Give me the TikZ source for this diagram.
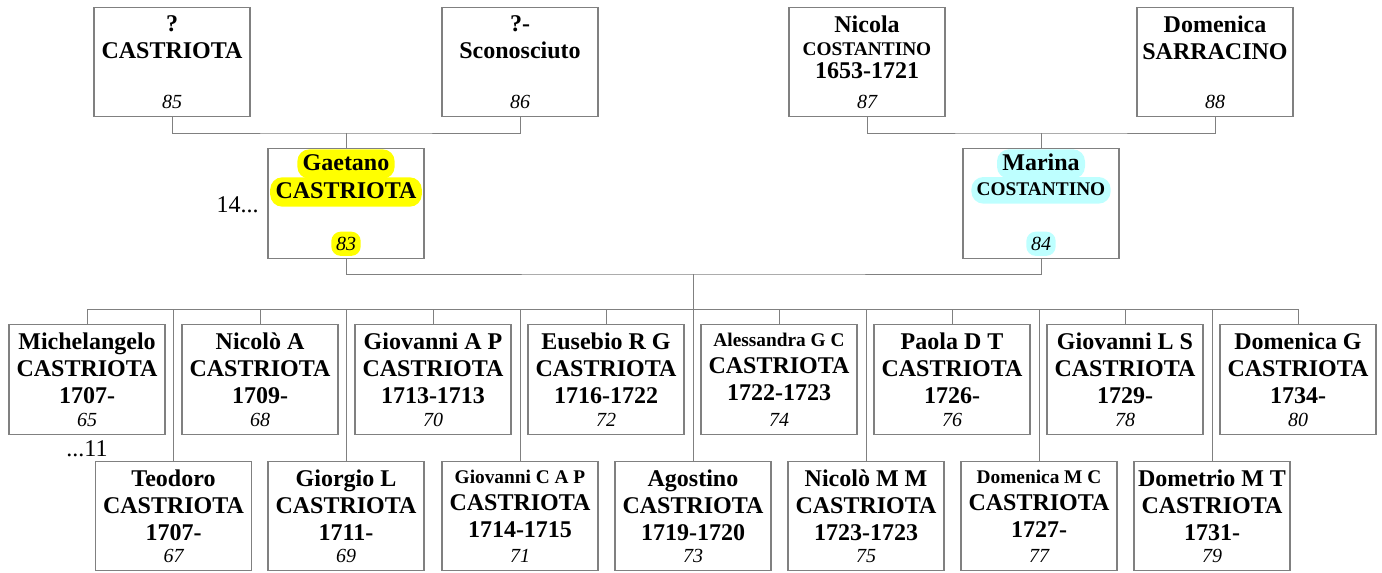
\documentclass[tikz,border=0pt]{standalone}
\usepackage{fontspec}
\setmainfont{Liberation Serif}
\usetikzlibrary{positioning}

\definecolor{markyellow}{RGB}{255,255,0}
\definecolor{markcyan}{RGB}{190,255,255}

\newcommand{\sm}[1]{{\fontsize{14.5}{16}\selectfont #1}}
% one box of the tree: id, centre, name lines, number
\newcommand{\famcard}[4]{%
  \node[card] (#1) at (#2) {};
  \node[cardname] (#1-n) at ([yshift=-6.5pt]#1.north) {#3};
  \node[cardnum] (#1-k) at ([yshift=11.25pt]#1.south) {#4};
}

\tikzset{
  card/.style={draw=black!50, line width=0.9pt, minimum width=117pt, minimum height=82pt, inner sep=0pt},
  cardname/.style={anchor=north, align=center, inner sep=0pt, font=\fontsize{18}{20.25}\selectfont\bfseries},
  cardnum/.style={inner sep=0pt, font=\fontsize{15}{16}\selectfont\itshape},
  link/.style={draw=black!50, line width=0.75pt},
  hlmark/.style={rounded corners=9pt, inner xsep=4pt, inner ysep=3pt, text height=12.5pt, text depth=3.5pt},
  nummark/.style={cardnum, rounded corners=7pt, inner xsep=3.5pt, inner ysep=4pt},
  sidenote/.style={inner sep=0pt, font=\fontsize{18}{20}\selectfont}
}

\begin{document}
\begin{tikzpicture}[x=0.75pt,y=-0.75pt]
  \useasboundingbox (0,0) rectangle (1382,572);

  % grandparents
  \famcard{p85}{172,62}{?\\CASTRIOTA}{85}
  \famcard{p86}{520,62}{?-\\Sconosciuto}{86}
  \famcard{p87}{867,62}{Nicola\\[-3pt]\sm{COSTANTINO}\\[-3pt]1653-1721}{87}
  \famcard{p88}{1215,62}{Domenica\\SARRACINO}{88}

  % parents
  \node[hlmark, fill=markyellow, anchor=base, font=\fontsize{18}{20}\selectfont\bfseries] (p83-a) at (346,170) {Gaetano};
  \node[hlmark, fill=markyellow, anchor=base, font=\fontsize{18}{20}\selectfont\bfseries] (p83-b) at (346,198) {CASTRIOTA};
  \node[card] (p83) at (346,203.5) {};
  \node[nummark, fill=markyellow] (p83-k) at ([yshift=11.25pt]p83.south) {83};

  \node[hlmark, fill=markcyan, anchor=base, font=\fontsize{18}{20}\selectfont\bfseries] (p84-a) at (1041,170) {Marina};
  \node[hlmark, fill=markcyan, anchor=base, font=\fontsize{14.5}{16}\selectfont\bfseries, text height=10.5pt] (p84-b) at (1041,195) {COSTANTINO};
  \node[card] (p84) at (1041,203.5) {};
  \node[nummark, fill=markcyan] (p84-k) at ([yshift=11.25pt]p84.south) {84};

  \node[sidenote, anchor=east] (gen14) at (259,205) {14...};

  % children, first row
  \famcard{p65}{87,379.5}{Michelangelo\\CASTRIOTA\\1707-}{65}
  \famcard{p68}{260,379.5}{Nicolò A\\CASTRIOTA\\1709-}{68}
  \famcard{p70}{433,379.5}{Giovanni A P\\CASTRIOTA\\1713-1713}{70}
  \famcard{p72}{606,379.5}{Eusebio R G\\CASTRIOTA\\1716-1722}{72}
  \famcard{p74}{779,379.5}{\sm{Alessandra G C}\\CASTRIOTA\\1722-1723}{74}
  \famcard{p76}{952,379.5}{Paola D T\\CASTRIOTA\\1726-}{76}
  \famcard{p78}{1125,379.5}{Giovanni L S\\CASTRIOTA\\1729-}{78}
  \famcard{p80}{1298,379.5}{Domenica G\\CASTRIOTA\\1734-}{80}

  % children, second row
  \famcard{p67}{173.5,516}{Teodoro\\CASTRIOTA\\1707-}{67}
  \famcard{p69}{346,516}{Giorgio L\\CASTRIOTA\\1711-}{69}
  \famcard{p71}{520,516}{\sm{Giovanni C A P}\\CASTRIOTA\\1714-1715}{71}
  \famcard{p73}{693,516}{Agostino\\CASTRIOTA\\1719-1720}{73}
  \famcard{p75}{866,516}{Nicolò M M\\CASTRIOTA\\1723-1723}{75}
  \famcard{p77}{1039,516}{\sm{Domenica M C}\\CASTRIOTA\\1727-}{77}
  \famcard{p79}{1212,516}{Dometrio M T\\CASTRIOTA\\1731-}{79}

  \node[sidenote] (gen11) at (87,449) {...11};

  % connectors
  \coordinate (j1) at (346,133);
  \coordinate (j2) at (1041,133);
  \draw[link] (p85.south) |- (j1) -| (p86.south);
  \draw[link] (j1) -- (p83.north);
  \draw[link] (p87.south) |- (j2) -| (p88.south);
  \draw[link] (j2) -- (p84.north);
  \coordinate (wed) at (693,274);
  \coordinate (bus) at (693,309);
  \draw[link] (p83.south) |- (wed) -| (p84.south);
  \draw[link] (wed) -- (bus);
  \draw[link] (p65.north |- bus) -- (p80.north |- bus);
  \foreach \c in {65,67,68,69,70,71,72,73,74,75,76,77,78,79,80}
    \draw[link] (p\c.north) -- (p\c.north |- bus);
\end{tikzpicture}
\end{document}
